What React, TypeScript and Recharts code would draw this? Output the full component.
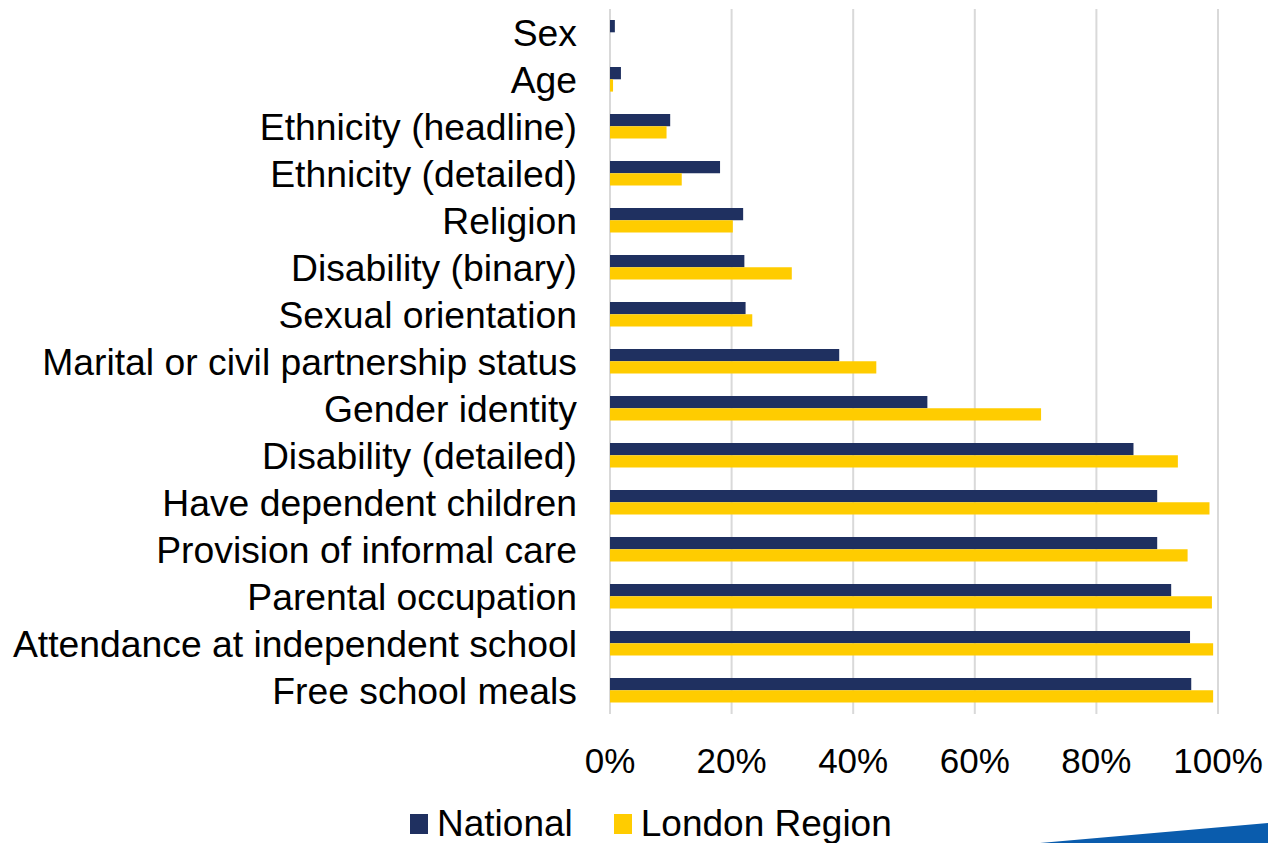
import React from "react";
import { BarChart, Bar, XAxis, YAxis, CartesianGrid, Legend } from "recharts";

const categories = [
  "Sex",
  "Age",
  "Ethnicity (headline)",
  "Ethnicity (detailed)",
  "Religion",
  "Disability (binary)",
  "Sexual orientation",
  "Marital or civil partnership status",
  "Gender identity",
  "Disability (detailed)",
  "Have dependent children",
  "Provision of informal care",
  "Parental occupation",
  "Attendance at independent school",
  "Free school meals",
];

const nationalValues = [0.8, 1.8, 9.9, 18.1, 21.9, 22.1, 22.3, 37.7, 52.2, 86.1, 90.0, 90.0, 92.3, 95.4, 95.6];
const londonValues = [0, 0.5, 9.3, 11.8, 20.2, 29.9, 23.4, 43.8, 70.9, 93.4, 98.6, 95.0, 99.0, 99.2, 99.2];

const xTicks = [0, 20, 40, 60, 80, 100];
const seriesNames = ["National", "London Region"];
const seriesColors = ["#1F3060", "#FFCC00"];

const data = categories.map((c, i) => ({
  name: c,
  national: nationalValues[i],
  london: londonValues[i],
}));

const FONT = '"Liberation Sans", Arial, sans-serif';

const LegendContent = (props: any) => {
  const payload = [...(props.payload || [])].sort(
    (a: any, b: any) => seriesNames.indexOf(a.value) - seriesNames.indexOf(b.value)
  );
  return (
    <div style={{ display: "flex", alignItems: "center", fontFamily: FONT, fontSize: 37, color: "#000", whiteSpace: "nowrap" }}>
      {payload.map((p: any, i: number) => (
        <div key={i} style={{ display: "flex", alignItems: "center", marginRight: i === 0 ? 41 : 0 }}>
          <span style={{ display: "inline-block", width: 18, height: 20, background: p.color, marginRight: 9 }} />
          <span>{p.value}</span>
        </div>
      ))}
    </div>
  );
};

export default function App() {
  return (
    <div style={{ position: "absolute", left: 0, top: 0, width: 1268, height: 843, background: "#fff" }}>
      <BarChart
        width={1268}
        height={843}
        data={data}
        layout="vertical"
        margin={{ top: 9, right: 50, bottom: 89, left: 0 }}
        barGap={0}
        barSize={12.3}
      >
        <CartesianGrid horizontal={false} stroke="#D9D9D9" strokeWidth={2} />
        <XAxis
          type="number"
          domain={[0, 100]}
          ticks={xTicks}
          tickFormatter={(v: number) => `${v}%`}
          axisLine={false}
          tickLine={false}
          tickSize={0}
          tickMargin={34}
          height={40}
          interval={0}
          tick={{ fill: "#000", fontSize: 35, fontFamily: FONT }}
        />
        <YAxis
          type="category"
          dataKey="name"
          width={610}
          axisLine={false}
          tickLine={false}
          tickSize={0}
          tickMargin={33}
          interval={0}
          tick={{ fill: "#000", fontSize: 37.3, fontFamily: FONT }}
        />
        <Legend
          layout="horizontal"
          verticalAlign="middle"
          align="center"
          content={<LegendContent />}
          wrapperStyle={{ left: 410, top: 803, width: 520, height: 44 }}
        />
        <Bar dataKey="national" name={seriesNames[0]} fill={seriesColors[0]} isAnimationActive={false} />
        <Bar dataKey="london" name={seriesNames[1]} fill={seriesColors[1]} isAnimationActive={false} />
      </BarChart>
      <svg style={{ position: "absolute", left: 0, top: 0, pointerEvents: "none" }} width={1268} height={843}>
        <polygon points="1040,843 1268,823 1268,843" fill="#0A5CAD" />
      </svg>
    </div>
  );
}
